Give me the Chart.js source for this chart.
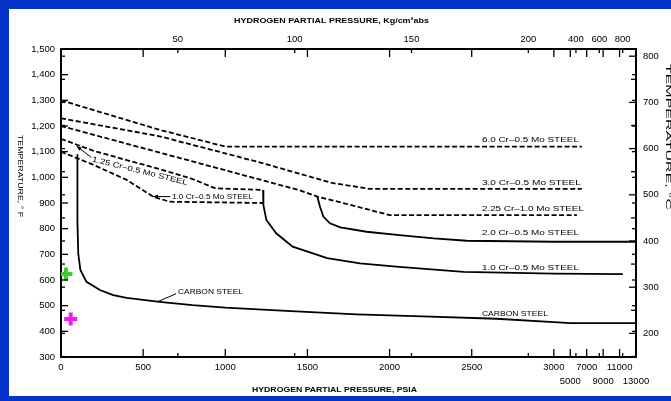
<!DOCTYPE html>
<html>
<head>
<meta charset="utf-8">
<script src="https://cdn.jsdelivr.net/npm/chart.js@4"></script>
<style>
  html, body { margin: 0; padding: 0; background: #0434c8; overflow: hidden; }
  #panel { position: absolute; left: 9px; top: 9px; width: 662px; height: 387px; background: #fff; }
  #grafico { position: absolute; left: 0; top: 0; }
</style>
</head>
<body>
<div id="panel"></div>
<canvas id="grafico" width="671" height="401"></canvas>
<script>
// Curvas de Nelson: [presión parcial H2 en psia, temperatura en °F]
const acero6Cr = [[0, 1300], [600, 1185], [1000, 1120], [6400, 1120]];
const acero3Cr = [[0, 1230], [600, 1160], [1200, 1060], [1650, 978], [1880, 955], [6400, 955]];
const acero225Cr = [[0, 1200], [1450, 950], [1560, 925], [1760, 893], [2000, 853], [5800, 853]];
const acero125Cr = [[0, 1150], [195, 1104], [400, 1067], [600, 1032], [790, 996], [940, 957], [1230, 951]];
const acero1CrPunteada = [[0, 1100], [200, 1048], [400, 990], [560, 925], [660, 905], [1230, 900]];
const acero1Cr = [[1230, 951], [1232, 892], [1250, 834], [1310, 782], [1410, 730], [1620, 685],
  [1820, 665], [2040, 652], [2450, 632], [3000, 625], [11400, 623]];
const acero2Cr = [[1560, 925], [1576, 886], [1597, 847], [1637, 821], [1700, 805], [1860, 788],
  [2060, 775], [2270, 762], [2470, 753], [3000, 749], [13000, 749]];
const aceroCarbono = [[100, 1090], [100, 830], [105, 704], [118, 639], [155, 593], [237, 561],
  [318, 541], [400, 530], [600, 515], [800, 502], [1000, 492], [1400, 479], [1800, 466],
  [2200, 458], [2650, 449], [3000, 436], [5000, 432], [13000, 432]];
const puntoVerde = [[30, 623]];
const puntoMagenta = [[59, 448]];

// Ejes
const psiTicks = [0, 500, 1000, 1500, 2000, 2500, 3000, 5000, 7000, 9000, 11000, 13000];
const psiLabels = ['0', '500', '1000', '1500', '2000', '2500', '3000', ['', '5000'], '7000', ['', '9000'], '11000', ['', '13000']];
const kgTicks = [50, 100, 150, 200, 400, 600, 800];
const kgLabels = ['50', '100', '150', '200', '400', '600', '800'];
const tempFTicks = [300, 400, 500, 600, 700, 800, 900, 1000, 1100, 1200, 1300, 1400, 1500];
const tempFLabels = ['300', '400', '500', '600', '700', '800', '900', '1,000', '1,100', '1,200', '1,300', '1,400', '1,500'];
const tempCTicks = [200, 300, 400, 500, 600, 700, 800];
const tempCLabels = ['200', '300', '400', '500', '600', '700', '800'];

const KG_A_PSI = 14.223;
// por encima de 3000 psia la escala se comprime
const comprimir = p => p <= 3000 ? p : 3000 + (p - 3000) * 0.05;
const fAC = f => (f - 32) / 1.8;
const cAF = c => c * 1.8 + 32;

const FUENTE = "'Liberation Sans', Arial, sans-serif";

const serie = (datos, discontinua) => ({
  data: datos.map(([p, t]) => ({ x: comprimir(p), y: t })),
  showLine: true,
  borderColor: '#000',
  borderWidth: 1.8,
  borderDash: discontinua ? [5, 2.5] : [],
  pointRadius: 0,
  tension: 0,
  fill: false
});

const cruz = (datos, color) => ({
  data: datos.map(([p, t]) => ({ x: comprimir(p), y: t })),
  showLine: false,
  pointStyle: 'cross',
  pointRadius: 6.5,
  borderWidth: 4,
  borderColor: color,
  backgroundColor: color
});

// escribe un texto ajustado a un ancho dado
function texto(ctx, str, x, y, ancho, fuente, angulo) {
  ctx.save();
  ctx.font = fuente;
  const w = ctx.measureText(str).width;
  ctx.translate(x, y);
  if (angulo) ctx.rotate(angulo);
  ctx.scale(ancho / w, 1);
  ctx.textAlign = 'left';
  ctx.textBaseline = 'middle';
  ctx.fillStyle = '#000';
  ctx.fillText(str, 0, 0);
  ctx.restore();
}

const etiquetasDerecha = [
  { t: '6.0 Cr–0.5 Mo STEEL', temp: 1147, ancho: 97 },
  { t: '3.0 Cr–0.5 Mo STEEL', temp: 977, ancho: 99 },
  { t: '2.25 Cr–1.0 Mo STEEL', temp: 876, ancho: 102 },
  { t: '2.0 Cr–0.5 Mo STEEL', temp: 782, ancho: 97 },
  { t: '1.0 Cr–0.5 Mo STEEL', temp: 648, ancho: 97 },
  { t: 'CARBON STEEL', temp: 466, ancho: 66 }
];

const marcasPlugin = {
  id: 'marcas',
  afterDraw(chart) {
    const { ctx, chartArea: a, scales: { x, y } } = chart;
    ctx.save();
    ctx.strokeStyle = '#000';
    ctx.lineWidth = 1.3;
    const linea = (x1, y1, x2, y2) => { ctx.beginPath(); ctx.moveTo(x1, y1); ctx.lineTo(x2, y2); ctx.stroke(); };

    // marcas hacia dentro
    psiTicks.forEach(p => {
      const px = x.getPixelForValue(comprimir(p));
      linea(px, a.bottom, px, a.bottom - 8);
      linea(px, a.top, px, a.top + 8);
    });
    kgTicks.forEach(k => {
      const px = x.getPixelForValue(comprimir(k * KG_A_PSI));
      linea(px, a.bottom, px, a.bottom - 4);
      linea(px, a.top, px, a.top + 4);
    });
    tempFTicks.forEach(f => {
      const py = y.getPixelForValue(f);
      linea(a.left, py, a.left + 7, py);
      linea(a.right, py, a.right - 4, py);
    });
    for (let c = 150; c <= 800; c += 50) {
      const py = y.getPixelForValue(cAF(c));
      if (py < a.top || py > a.bottom) continue;
      linea(a.left, py, a.left + 4, py);
      linea(a.right, py, a.right - (c % 100 === 0 ? 7 : 5), py);
    }

    // títulos
    texto(ctx, 'HYDROGEN PARTIAL PRESSURE, Kg/cm²abs', 234, 21, 195, 'bold 8px ' + FUENTE);
    texto(ctx, 'HYDROGEN PARTIAL PRESSURE, PSIA', 252, 390, 165, 'bold 8px ' + FUENTE);
    texto(ctx, 'TEMPERATURE, ° F', 20, 135, 82, '7.5px ' + FUENTE, Math.PI / 2);
    texto(ctx, 'TEMPERATURE, °C', 668, 64, 146, '7.5px ' + FUENTE, Math.PI / 2);

    // etiquetas de las curvas
    const xDer = x.getPixelForValue(2562);
    etiquetasDerecha.forEach(e => {
      texto(ctx, e.t, xDer, y.getPixelForValue(e.temp), e.ancho, '7.5px ' + FUENTE);
    });

    ctx.lineWidth = 1;
    // CARBON STEEL central con su guía
    const cx = x.getPixelForValue(712), cy = y.getPixelForValue(554);
    texto(ctx, 'CARBON STEEL', cx, cy, 65, '7.5px ' + FUENTE);
    linea(cx - 2, cy + 2, x.getPixelForValue(590), y.getPixelForValue(516));

    // 1.0 Cr-0.5 Mo con flecha
    const fx = x.getPixelForValue(560), fy = y.getPixelForValue(925);
    texto(ctx, '1.0 Cr–0.5 Mo STEEL', x.getPixelForValue(675), fy, 81, '7.5px ' + FUENTE);
    linea(fx, fy, x.getPixelForValue(665), fy);
    ctx.beginPath();
    ctx.moveTo(fx, fy); ctx.lineTo(fx + 5, fy - 2); ctx.lineTo(fx + 5, fy + 2); ctx.closePath();
    ctx.fillStyle = '#000'; ctx.fill();

    // 1.25 Cr-0.5 Mo inclinada con flecha
    const ang = Math.atan2(24, 96.6);
    const tx = x.getPixelForValue(190), ty = y.getPixelForValue(1070);
    texto(ctx, '1.25 Cr–0.5 Mo STEEL', tx, ty, 98, '7.5px ' + FUENTE, ang);
    const ax = x.getPixelForValue(95), ay = y.getPixelForValue(1122);
    linea(tx - 1, ty - 2, ax, ay);
    const d = Math.atan2(ty - 2 - ay, tx - 1 - ax);
    ctx.beginPath();
    ctx.moveTo(ax, ay);
    ctx.lineTo(ax + 5 * Math.cos(d) - 2 * Math.sin(d), ay + 5 * Math.sin(d) + 2 * Math.cos(d));
    ctx.lineTo(ax + 5 * Math.cos(d) + 2 * Math.sin(d), ay + 5 * Math.sin(d) - 2 * Math.cos(d));
    ctx.closePath(); ctx.fill();

    ctx.restore();
  }
};

const tickFont = { family: FUENTE, size: 9.5 };

new Chart(document.getElementById('grafico'), {
  type: 'scatter',
  data: {
    datasets: [
      serie(acero6Cr, true),
      serie(acero3Cr, true),
      serie(acero225Cr, true),
      serie(acero125Cr, true),
      serie(acero1CrPunteada, true),
      serie(acero1Cr, false),
      serie(acero2Cr, false),
      serie(aceroCarbono, false),
      cruz(puntoVerde, '#3ccb2c'),
      cruz(puntoMagenta, '#f01cf0')
    ]
  },
  options: {
    responsive: false,
    animation: false,
    layout: { padding: 0 },
    plugins: { legend: { display: false }, tooltip: { enabled: false } },
    scales: {
      x: {
        type: 'linear', position: 'bottom', min: 0, max: 3500,
        afterBuildTicks: s => { s.ticks = psiTicks.map(p => ({ value: comprimir(p) })); },
        ticks: { autoSkip: false, maxRotation: 0, padding: 3, color: '#000',
          font: { ...tickFont, lineHeight: 1.5 }, callback: (v, i) => psiLabels[i] },
        grid: { display: false, drawTicks: false },
        border: { color: '#000', width: 2 },
        afterFit: s => { s.height = 44; }
      },
      x2: {
        type: 'linear', axis: 'x', position: 'top', min: 0, max: 3500,
        afterBuildTicks: s => { s.ticks = kgTicks.map(k => ({ value: comprimir(k * KG_A_PSI) })); },
        ticks: { autoSkip: false, maxRotation: 0, padding: 4, color: '#000', font: tickFont,
          callback: (v, i) => kgLabels[i] },
        grid: { display: false, drawTicks: false },
        border: { color: '#000', width: 2 },
        afterFit: s => { s.height = 49; }
      },
      y: {
        type: 'linear', position: 'left', min: 300, max: 1500,
        afterBuildTicks: s => { s.ticks = tempFTicks.map(v => ({ value: v })); },
        ticks: { autoSkip: false, padding: 6, color: '#000', font: tickFont,
          callback: (v, i) => tempFLabels[i] },
        grid: { display: false, drawTicks: false },
        border: { color: '#000', width: 2 },
        afterFit: s => { s.width = 61; }
      },
      y2: {
        type: 'linear', axis: 'y', position: 'right', min: fAC(300), max: fAC(1500),
        afterBuildTicks: s => { s.ticks = tempCTicks.map(v => ({ value: v })); },
        ticks: { autoSkip: false, padding: 7, color: '#000', font: tickFont,
          callback: (v, i) => tempCLabels[i] },
        grid: { display: false, drawTicks: false },
        border: { color: '#000', width: 2 },
        afterFit: s => { s.width = 35; }
      }
    }
  },
  plugins: [marcasPlugin]
});
</script>
</body>
</html>
